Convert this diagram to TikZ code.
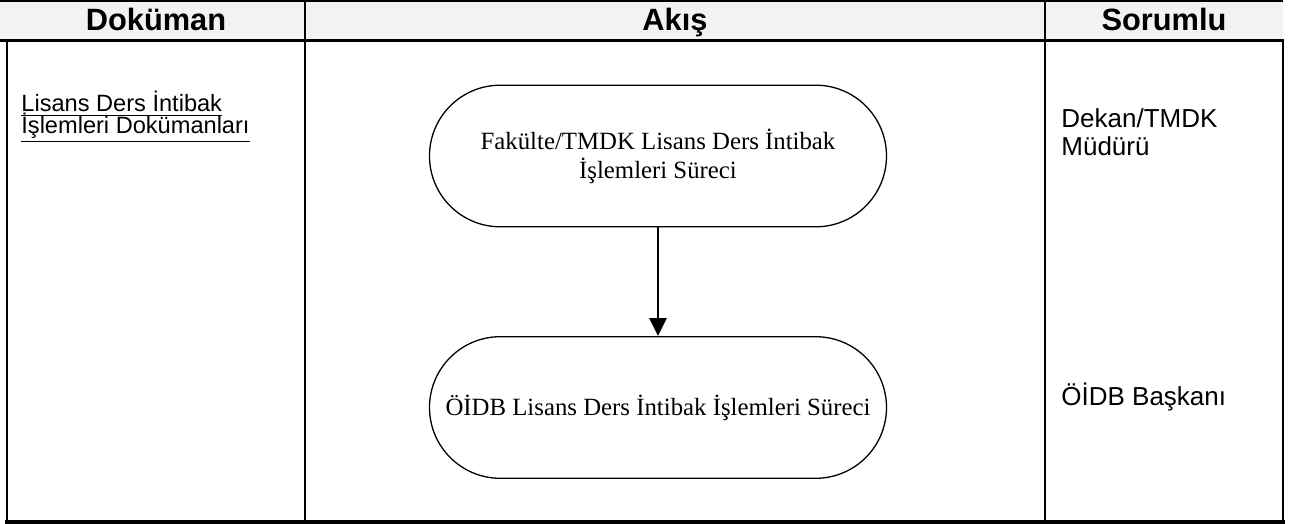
\documentclass[tikz,border=0pt]{standalone}
\usepackage{fontspec}
\setmainfont{Liberation Serif}
\newfontfamily\arialfont{Liberation Sans}
\usetikzlibrary{arrows.meta}
\definecolor{headgray}{HTML}{F2F2F2}
\tikzset{
  headtext/.style={font=\arialfont\bfseries\fontsize{15.4pt}{17pt}\selectfont, anchor=base, inner sep=0pt},
  doctext/.style={font=\arialfont\fontsize{11.8pt}{11pt}\selectfont, anchor=base west, inner sep=0pt},
  roletext/.style={font=\arialfont\fontsize{13pt}{14pt}\selectfont, anchor=base west, inner sep=0pt},
  terminal/.style={draw, line width=0.65pt, rounded corners=35.4pt, minimum width=228.5pt, minimum height=70.8pt,
    align=center, inner sep=0pt, font=\fontsize{12.4pt}{14.5pt}\selectfont},
  flowarrow/.style={line width=1.3pt, -{Triangle[length=9pt,width=8.5pt]}}
}
\begin{document}
\begin{tikzpicture}[x=0.5pt,y=-0.5pt]
\useasboundingbox (0,0) rectangle (1298,524);
% header background
\fill[headgray] (0,0) rectangle (1283,40);
% table lines
\draw[line width=1pt] (0,1) -- (1283,1);
\draw[line width=1.5pt] (0,40.5) -- (1284,40.5);
\draw[line width=1.15pt] (7,40) -- (7,522);
\draw[line width=1.2pt] (305,0) -- (305,522);
\draw[line width=1.3pt] (1045,0) -- (1045,522);
\draw[line width=1.2pt] (1283,40) -- (1283,522);
\draw[line width=2pt] (5,522) -- (1285,522);
% header texts
\node[headtext] (hdoc) at (156,31) {Doküman};
\node[headtext] (hflow) at (675,31) {Akış};
\node[headtext] (hresp) at (1164,31) {Sorumlu};
% document column
\node[doctext] (doc1) at (21,112) {\underline{Lisans Ders İntibak}};
\node[doctext] (doc2) at (21,134) {\underline{İşlemleri Dokümanları}};
% responsible column
\node[roletext] (resp1) at (1061,128) {Dekan/TMDK};
\node[roletext] (resp2) at (1061,156) {Müdürü};
\node[roletext] (resp3) at (1061,406) {ÖİDB Başkanı};
% flow
\node[terminal] (up) at (658,156) {Fakülte/TMDK Lisans Ders İntibak\\İşlemleri Süreci};
\node[terminal] (low) at (658,407.5) {ÖİDB Lisans Ders İntibak İşlemleri Süreci};
\draw[flowarrow] (up.south) -- (low.north);
\end{tikzpicture}
\end{document}
